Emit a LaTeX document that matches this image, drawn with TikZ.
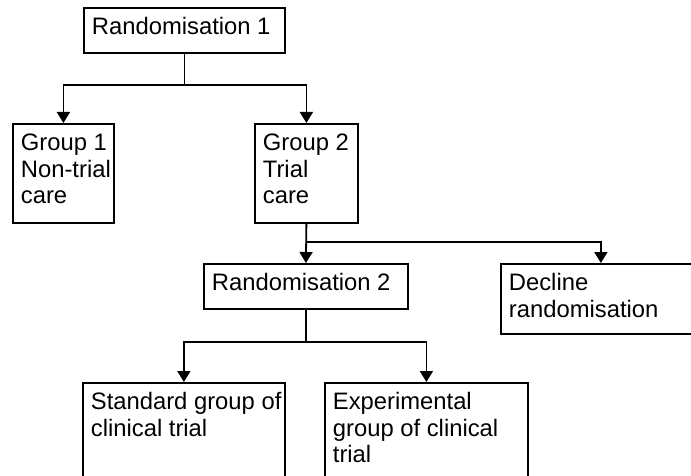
\documentclass[tikz,border=0pt]{standalone}
\usepackage{fontspec}
\setmainfont{Liberation Sans}
\usetikzlibrary{arrows.meta}
\newcommand{\bxtext}[3]{\parbox[c][#2pt][t]{#1pt}{\raggedright\leftskip=8pt\relax\rule{0pt}{27pt}#3}}
\begin{document}
\begin{tikzpicture}[x=1pt,y=-1pt,
  box/.style={draw, line width=1.8pt, inner sep=0pt, anchor=north west, font=\fontsize{23.8}{26.5}\selectfont},
  arr/.style={line width=1.8pt, -{Triangle[length=11pt,width=13pt]}}]
\useasboundingbox (0,0) rectangle (691,476);
\clip (0,0) rectangle (691,476);
\node[box] (r1) at (83,7) {\bxtext{201}{45}{Randomisation 1}};
\node[box] (g1) at (12,123) {\bxtext{101}{99}{Group 1\\Non-trial\\care}};
\node[box] (g2) at (254,123) {\bxtext{103}{99}{Group 2\\Trial\\care}};
\node[box] (r2) at (203,263) {\bxtext{204}{45}{Randomisation 2}};
\node[box] (dec) at (500,263) {\bxtext{200}{70}{Decline\\randomisation}};
\node[box] (std) at (82,382) {\bxtext{202}{110}{Standard group of\\clinical trial}};
\node[box] (exp) at (324,382) {\bxtext{203}{110}{Experimental\\group of clinical\\trial}};
\draw[arr] (r1.south) -- ++(0,31) -| (g1.north);
\draw[arr] (r1.south) -- ++(0,31) -| (g2.north);
\draw[arr] (g2.south) -- (r2.north);
\draw[arr] (g2.south) -- ++(0,18) -| (dec.north);
\draw[arr] (r2.south) -- ++(0,32) -| (std.north);
\draw[arr] (r2.south) -- ++(0,32) -| (exp.north);
\end{tikzpicture}
\end{document}
